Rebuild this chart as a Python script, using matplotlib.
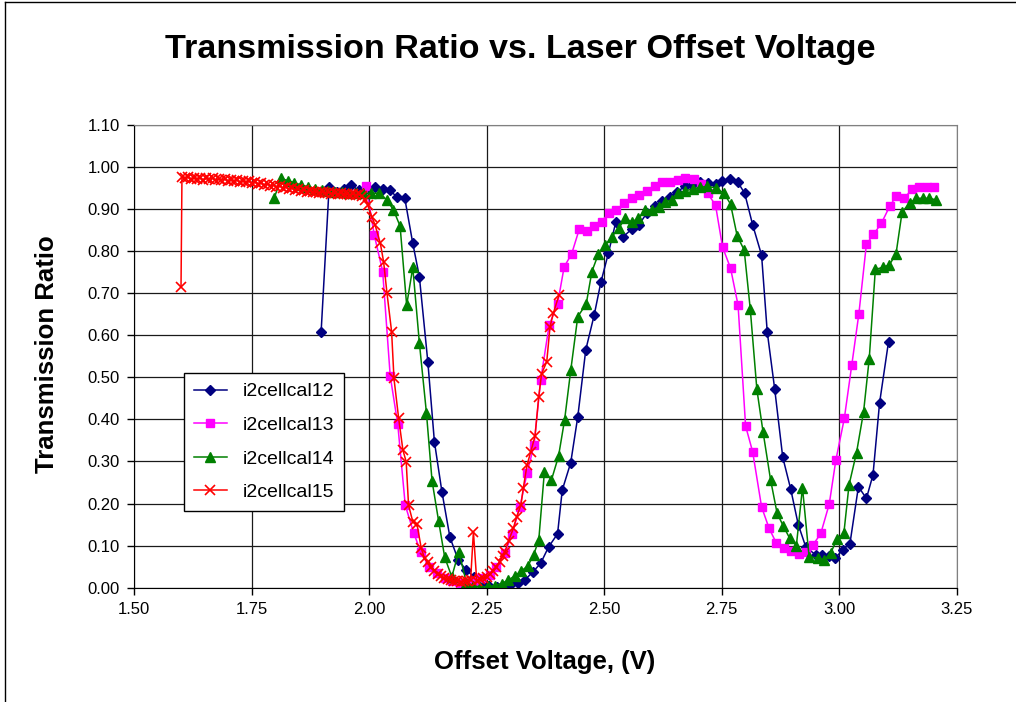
import matplotlib
matplotlib.use("Agg")
import matplotlib.pyplot as plt
from matplotlib.lines import Line2D
from matplotlib.ticker import FormatStrFormatter, MultipleLocator

plt.rcParams['font.family'] = ['Liberation Sans', 'DejaVu Sans']

# ---- data ----
v12 = [1.898, 1.915, 1.931, 1.947, 1.962, 1.978, 1.995, 2.012, 2.029, 2.045,
       2.059, 2.076, 2.093, 2.107, 2.125, 2.139, 2.155, 2.172, 2.190, 2.207,
       2.223, 2.240, 2.256, 2.272, 2.288, 2.303, 2.317, 2.331, 2.349, 2.365,
       2.382, 2.401, 2.411, 2.429, 2.444, 2.461, 2.479, 2.493, 2.509, 2.525,
       2.541, 2.559, 2.574, 2.591, 2.609, 2.623, 2.641, 2.656, 2.672, 2.687,
       2.704, 2.722, 2.738, 2.751, 2.767, 2.784, 2.799, 2.816, 2.835, 2.847,
       2.863, 2.880, 2.897, 2.913, 2.929, 2.950, 2.964, 2.978, 2.991, 3.008,
       3.023, 3.041, 3.058, 3.072, 3.086, 3.105]
t12 = [0.607, 0.951, 0.940, 0.946, 0.956, 0.944, 0.940, 0.951, 0.947, 0.945,
       0.927, 0.925, 0.818, 0.739, 0.537, 0.347, 0.228, 0.120, 0.065, 0.042,
       0.026, 0.012, 0.005, 0.002, 0.002, 0.008, 0.012, 0.018, 0.038, 0.058,
       0.097, 0.128, 0.232, 0.297, 0.406, 0.565, 0.648, 0.725, 0.794, 0.869,
       0.834, 0.852, 0.862, 0.890, 0.906, 0.918, 0.929, 0.941, 0.953, 0.956,
       0.964, 0.961, 0.960, 0.966, 0.971, 0.964, 0.937, 0.862, 0.790, 0.608,
       0.471, 0.310, 0.234, 0.150, 0.097, 0.078, 0.078, 0.075, 0.070, 0.090,
       0.105, 0.240, 0.212, 0.268, 0.439, 0.584]

v13 = [1.994, 2.011, 2.029, 2.045, 2.061, 2.077, 2.095, 2.110, 2.127, 2.145,
       2.161, 2.177, 2.193, 2.209, 2.224, 2.239, 2.257, 2.271, 2.289, 2.304,
       2.321, 2.336, 2.351, 2.365, 2.383, 2.401, 2.415, 2.431, 2.447, 2.463,
       2.479, 2.495, 2.510, 2.526, 2.543, 2.559, 2.574, 2.591, 2.609, 2.624,
       2.641, 2.657, 2.673, 2.691, 2.707, 2.720, 2.737, 2.752, 2.769, 2.785,
       2.801, 2.816, 2.835, 2.851, 2.866, 2.882, 2.897, 2.914, 2.929, 2.944,
       2.961, 2.979, 2.993, 3.011, 3.027, 3.042, 3.058, 3.073, 3.090, 3.108,
       3.122, 3.138, 3.155, 3.170, 3.186, 3.202]
t13 = [0.954, 0.838, 0.751, 0.503, 0.389, 0.196, 0.130, 0.085, 0.050, 0.034,
       0.022, 0.015, 0.012, 0.012, 0.015, 0.022, 0.030, 0.050, 0.082, 0.127,
       0.192, 0.272, 0.339, 0.493, 0.623, 0.674, 0.762, 0.793, 0.851, 0.848,
       0.859, 0.869, 0.891, 0.897, 0.913, 0.925, 0.933, 0.942, 0.953, 0.964,
       0.964, 0.968, 0.972, 0.970, 0.960, 0.937, 0.909, 0.809, 0.759, 0.671,
       0.384, 0.323, 0.192, 0.141, 0.107, 0.094, 0.088, 0.080, 0.085, 0.101,
       0.129, 0.199, 0.303, 0.402, 0.530, 0.651, 0.816, 0.839, 0.866, 0.907,
       0.931, 0.925, 0.946, 0.951, 0.951, 0.951]

v14 = [1.798, 1.813, 1.827, 1.841, 1.855, 1.870, 1.884, 1.899, 1.913, 1.928,
       1.943, 1.957, 1.972, 1.987, 2.004, 2.022, 2.038, 2.052, 2.066, 2.080,
       2.093, 2.107, 2.122, 2.134, 2.148, 2.161, 2.176, 2.191, 2.207, 2.222,
       2.237, 2.252, 2.267, 2.282, 2.296, 2.310, 2.324, 2.338, 2.350, 2.361,
       2.373, 2.388, 2.403, 2.416, 2.429, 2.444, 2.462, 2.474, 2.488, 2.502,
       2.516, 2.531, 2.545, 2.559, 2.573, 2.588, 2.602, 2.616, 2.630, 2.644,
       2.658, 2.673, 2.689, 2.704, 2.719, 2.737, 2.755, 2.769, 2.783, 2.798,
       2.811, 2.825, 2.838, 2.854, 2.868, 2.881, 2.895, 2.909, 2.922, 2.936,
       2.954, 2.968, 2.982, 2.995, 3.010, 3.021, 3.037, 3.052, 3.064, 3.077,
       3.093, 3.107, 3.121, 3.134, 3.150, 3.164, 3.178, 3.192, 3.207]
t14 = [0.925, 0.972, 0.967, 0.962, 0.957, 0.952, 0.948, 0.944, 0.942, 0.940,
       0.939, 0.938, 0.937, 0.937, 0.937, 0.937, 0.921, 0.897, 0.859, 0.671,
       0.761, 0.582, 0.416, 0.254, 0.158, 0.072, 0.026, 0.086, 0.012, 0.004,
       0.002, 0.003, 0.005, 0.010, 0.018, 0.028, 0.040, 0.052, 0.078, 0.113,
       0.276, 0.256, 0.312, 0.399, 0.516, 0.644, 0.674, 0.751, 0.793, 0.813,
       0.833, 0.854, 0.877, 0.869, 0.877, 0.897, 0.897, 0.905, 0.917, 0.921,
       0.937, 0.943, 0.947, 0.951, 0.953, 0.950, 0.937, 0.911, 0.836, 0.802,
       0.661, 0.471, 0.371, 0.257, 0.177, 0.147, 0.117, 0.100, 0.238, 0.074,
       0.070, 0.066, 0.082, 0.115, 0.129, 0.244, 0.321, 0.418, 0.544, 0.756,
       0.761, 0.767, 0.793, 0.893, 0.913, 0.925, 0.925, 0.925, 0.921]

v15 = [1.600, 1.602, 1.608, 1.615, 1.621, 1.628, 1.634, 1.641, 1.647, 1.654,
       1.660, 1.667, 1.673, 1.680, 1.686, 1.693, 1.699, 1.706, 1.712, 1.719,
       1.725, 1.732, 1.738, 1.745, 1.751, 1.758, 1.764, 1.771, 1.777, 1.784,
       1.790, 1.797, 1.803, 1.810, 1.816, 1.823, 1.829, 1.836, 1.842, 1.849,
       1.855, 1.862, 1.868, 1.875, 1.881, 1.888, 1.894, 1.901, 1.907, 1.914,
       1.920, 1.927, 1.933, 1.940, 1.946, 1.953, 1.959, 1.966, 1.972, 1.979,
       1.985, 1.992, 1.997, 2.006, 2.013, 2.024, 2.031, 2.038, 2.048, 2.053,
       2.063, 2.072, 2.079, 2.084, 2.093, 2.102, 2.111, 2.118, 2.125, 2.132,
       2.139, 2.146, 2.153, 2.160, 2.167, 2.174, 2.181, 2.188, 2.195, 2.202,
       2.209, 2.216, 2.222, 2.229, 2.236, 2.243, 2.250, 2.257, 2.264, 2.271,
       2.278, 2.284, 2.289, 2.297, 2.307, 2.314, 2.323, 2.328, 2.336, 2.344,
       2.353, 2.361, 2.367, 2.378, 2.385, 2.392, 2.404]
t15 = [0.715, 0.976, 0.972, 0.975, 0.970, 0.974, 0.971, 0.973, 0.969, 0.972,
       0.970, 0.973, 0.968, 0.971, 0.969, 0.970, 0.967, 0.969, 0.966, 0.968,
       0.964, 0.966, 0.963, 0.965, 0.961, 0.963, 0.960, 0.961, 0.957, 0.959,
       0.955, 0.956, 0.952, 0.954, 0.950, 0.951, 0.947, 0.949, 0.945, 0.946,
       0.943, 0.944, 0.941, 0.943, 0.940, 0.941, 0.938, 0.940, 0.937, 0.939,
       0.936, 0.938, 0.935, 0.937, 0.934, 0.936, 0.933, 0.935, 0.932, 0.934,
       0.930, 0.922, 0.909, 0.881, 0.861, 0.818, 0.774, 0.701, 0.608, 0.497,
       0.402, 0.327, 0.299, 0.196, 0.157, 0.151, 0.094, 0.070, 0.060, 0.050,
       0.040, 0.033, 0.028, 0.022, 0.020, 0.018, 0.015, 0.017, 0.014, 0.016,
       0.015, 0.018, 0.133, 0.017, 0.020, 0.022, 0.026, 0.032, 0.040, 0.050,
       0.062, 0.075, 0.086, 0.112, 0.141, 0.169, 0.196, 0.236, 0.291, 0.323,
       0.360, 0.454, 0.508, 0.537, 0.620, 0.652, 0.695]

names = ['i2cellcal12', 'i2cellcal13', 'i2cellcal14', 'i2cellcal15']
xticks = [1.50, 1.75, 2.00, 2.25, 2.50, 2.75, 3.00, 3.25]

fig = plt.figure(figsize=(10.16, 7.02), dpi=100)
fig.subplots_adjust(left=0.1319, right=0.9416, top=0.8225, bottom=0.1628)
ax = fig.add_subplot(111)

ax.plot(v12, t12, color='#000080', marker='D', markersize=5, lw=1.1, label=names[0])
ax.plot(v13, t13, color='#FF00FF', marker='s', markersize=6, lw=1.1, label=names[1])
ax.plot(v14, t14, color='#008000', marker='^', markersize=7, lw=1.1, label=names[2])
ax.plot(v15, t15, color='#FF0000', marker='x', markersize=7, mew=1.2, lw=1.1, label=names[3])

ax.set_xlim(1.5, 3.25)
ax.set_ylim(0, 1.1)
ax.set_xticks(xticks)
ax.yaxis.set_major_locator(MultipleLocator(0.1))
ax.xaxis.set_major_formatter(FormatStrFormatter('%.2f'))
ax.yaxis.set_major_formatter(FormatStrFormatter('%.2f'))
ax.grid(True, color='#1a1a1a', lw=0.9)
ax.set_axisbelow(True)
ax.tick_params(direction='out', length=5, width=1, labelsize=12, colors='black', pad=5)
for side in ['left', 'bottom']:
    ax.spines[side].set_color('black')
for side in ['top', 'right']:
    ax.spines[side].set_color('#808080')

fig.text(0.512, 0.929, 'Transmission Ratio vs. Laser Offset Voltage',
         fontsize=24.6, fontweight='bold', ha='center', va='center')
fig.text(0.536, 0.057, 'Offset Voltage, (V)', fontsize=18.5, fontweight='bold',
         ha='center', va='center')
fig.text(0.0463, 0.4957, 'Transmission Ratio', fontsize=18.5, fontweight='bold',
         ha='center', va='center', rotation=90)

leg = ax.legend(loc='lower left', bbox_to_anchor=(0.061, 0.166), fontsize=14,
                numpoints=1, handlelength=1.7, fancybox=False, framealpha=1,
                edgecolor='black', borderpad=0.5, labelspacing=0.82, borderaxespad=0)
leg.get_frame().set_linewidth(1)

# chart-area border
fig.add_artist(Line2D([5 / 1016, 1], [1 - 2 / 702, 1 - 2 / 702], transform=fig.transFigure,
                      color='black', lw=1))
fig.add_artist(Line2D([5 / 1016, 5 / 1016], [0, 1 - 2 / 702], transform=fig.transFigure,
                      color='black', lw=1))

fig.savefig('out.png', dpi=100)
